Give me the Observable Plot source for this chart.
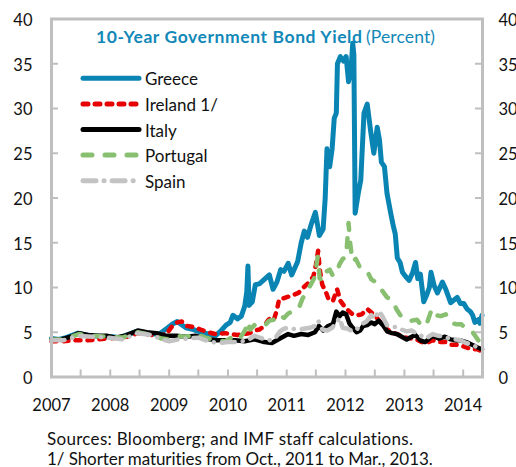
<!DOCTYPE html>
<html><head><meta charset="utf-8">
<script src="https://cdn.jsdelivr.net/npm/d3@7"></script>
<script src="https://cdn.jsdelivr.net/npm/@observablehq/plot@0.6"></script>
<style>
body{margin:0;background:#fff;}
#wrap{position:relative;width:516px;height:467px;overflow:hidden;font-family:Lato,"Open Sans",sans-serif;}
.note{position:absolute;left:47px;font-size:17px;line-height:20px;color:#111;white-space:nowrap;}
</style></head><body><div id="wrap"></div>
<script>
// ---------- data (10-year government bond yields, percent) ----------
const greece = [["2007-01-01",4.3],["2007-02-15",4.2],["2007-04-01",4.4],["2007-06-15",4.9],["2007-08-01",4.7],["2007-09-15",4.6],["2007-11-15",4.5],["2008-01-15",4.5],["2008-03-01",4.4],["2008-04-15",4.7],["2008-06-15",5.1],["2008-07-15",5.0],["2008-09-15",4.8],["2008-11-01",4.8],["2008-12-15",5.4],["2009-01-20",5.9],["2009-02-20",6.2],["2009-03-15",5.9],["2009-04-15",5.5],["2009-06-01",5.3],["2009-07-15",5.0],["2009-09-01",4.8],["2009-10-15",4.6],["2009-11-20",5.2],["2009-12-20",5.8],["2010-01-15",6.1],["2010-02-01",6.9],["2010-03-01",6.5],["2010-03-25",6.8],["2010-04-15",7.9],["2010-04-28",9.5],["2010-05-05",12.4],["2010-05-12",8.0],["2010-06-01",8.4],["2010-06-20",10.3],["2010-07-15",10.4],["2010-08-15",10.9],["2010-09-15",11.4],["2010-10-08",9.8],["2010-11-01",10.6],["2010-11-25",12.0],["2010-12-15",11.8],["2011-01-10",12.7],["2011-02-01",11.4],["2011-03-10",12.9],["2011-04-01",15.0],["2011-04-20",16.3],["2011-05-10",15.6],["2011-06-01",17.0],["2011-06-28",18.4],["2011-07-23",15.8],["2011-08-15",16.5],["2011-08-28",20.0],["2011-09-08",25.5],["2011-09-25",23.5],["2011-10-10",25.5],["2011-10-23",28.9],["2011-11-05",29.5],["2011-11-12",35.0],["2011-11-30",35.8],["2011-12-20",35.3],["2012-01-05",35.8],["2012-01-20",33.0],["2012-02-05",34.5],["2012-02-15",37.3],["2012-02-22",36.0],["2012-03-01",18.3],["2012-03-20",20.5],["2012-04-05",22.0],["2012-04-25",29.5],["2012-05-15",30.5],["2012-06-05",27.5],["2012-06-25",25.0],["2012-07-16",27.9],["2012-07-30",26.5],["2012-08-11",24.0],["2012-08-30",23.5],["2012-09-15",20.5],["2012-10-08",18.3],["2012-10-25",16.8],["2012-11-05",16.0],["2012-11-18",13.3],["2012-12-05",12.8],["2012-12-20",11.7],["2013-01-10",11.2],["2013-01-30",10.8],["2013-02-20",11.6],["2013-03-11",12.8],["2013-03-25",11.0],["2013-04-10",11.5],["2013-05-01",8.4],["2013-05-20",9.2],["2013-06-05",10.0],["2013-06-15",11.7],["2013-07-05",10.2],["2013-07-25",9.4],["2013-08-25",10.6],["2013-09-15",9.8],["2013-10-15",8.3],["2013-11-05",8.6],["2013-11-25",8.9],["2013-12-15",8.2],["2014-01-05",8.2],["2014-01-25",7.6],["2014-02-15",7.3],["2014-03-01",6.9],["2014-03-15",6.1],["2014-04-05",6.4],["2014-04-15",6.0],["2014-04-28",6.9]];

const ireland = [["2007-01-01",4.0],["2007-03-15",4.0],["2007-06-01",4.1],["2007-08-15",4.1],["2007-10-15",4.2],["2007-12-15",4.3],["2008-02-15",4.4],["2008-04-15",4.5],["2008-06-20",4.9],["2008-08-15",4.8],["2008-10-15",4.6],["2008-12-15",4.8],["2009-01-20",5.7],["2009-02-20",6.1],["2009-03-20",6.2],["2009-04-20",5.7],["2009-06-01",5.6],["2009-07-15",5.3],["2009-09-01",5.0],["2009-10-15",4.8],["2009-12-15",4.9],["2010-01-20",4.8],["2010-03-01",4.7],["2010-04-15",4.8],["2010-05-15",4.9],["2010-06-15",5.2],["2010-07-15",5.3],["2010-08-15",5.7],["2010-09-10",6.4],["2010-09-30",6.7],["2010-10-15",6.5],["2010-11-01",7.5],["2010-11-15",8.7],["2010-12-15",8.8],["2011-01-15",9.0],["2011-02-15",9.2],["2011-03-15",9.4],["2011-04-15",10.0],["2011-05-15",10.5],["2011-06-15",11.2],["2011-07-01",12.5],["2011-07-15",14.1],["2011-07-25",12.0],["2011-08-10",10.3],["2011-09-01",9.5],["2011-09-20",8.6],["2011-10-15",8.5],["2011-11-10",9.8],["2011-12-01",8.5],["2011-12-25",7.9],["2012-01-20",7.4],["2012-02-15",7.0],["2012-03-15",6.9],["2012-04-10",7.0],["2012-05-15",7.6],["2012-06-10",7.2],["2012-07-10",6.7],["2012-08-10",6.0],["2012-09-10",5.4],["2012-10-15",5.0],["2012-11-15",4.8],["2012-12-10",4.6],["2013-01-10",4.4],["2013-02-15",4.3],["2013-03-15",4.2],["2013-04-20",3.9],["2013-05-20",3.8],["2013-06-25",4.1],["2013-08-01",3.9],["2013-09-15",3.9],["2013-10-20",3.6],["2013-11-20",3.6],["2013-12-20",3.5],["2014-01-20",3.3],["2014-02-25",3.1],["2014-04-01",3.1],["2014-04-28",2.8]];

const italy = [["2007-01-01",4.2],["2007-03-01",4.2],["2007-05-01",4.5],["2007-06-20",4.9],["2007-08-15",4.7],["2007-10-15",4.6],["2007-12-15",4.6],["2008-02-01",4.4],["2008-04-01",4.6],["2008-06-20",5.2],["2008-08-15",5.0],["2008-10-15",4.9],["2008-12-15",4.6],["2009-02-15",4.6],["2009-04-15",4.5],["2009-06-15",4.6],["2009-08-15",4.3],["2009-10-15",4.1],["2009-12-15",4.1],["2010-02-15",4.1],["2010-04-15",4.0],["2010-06-15",4.2],["2010-08-15",3.9],["2010-10-01",3.8],["2010-11-20",4.3],["2011-01-10",4.8],["2011-02-15",4.6],["2011-04-01",4.8],["2011-05-15",4.7],["2011-06-25",5.0],["2011-07-20",5.7],["2011-08-15",5.2],["2011-09-15",5.7],["2011-10-15",5.9],["2011-11-05",7.3],["2011-11-25",6.8],["2011-12-15",7.2],["2012-01-05",7.0],["2012-01-25",6.0],["2012-02-15",5.5],["2012-03-10",5.0],["2012-04-01",5.2],["2012-04-20",5.7],["2012-05-15",5.8],["2012-06-10",6.1],["2012-07-01",5.9],["2012-07-25",6.3],["2012-08-20",5.8],["2012-09-15",5.1],["2012-10-15",4.9],["2012-11-15",4.8],["2012-12-15",4.5],["2013-01-15",4.2],["2013-02-15",4.5],["2013-03-10",4.7],["2013-04-10",4.1],["2013-05-10",3.9],["2013-06-25",4.6],["2013-08-01",4.3],["2013-09-10",4.5],["2013-10-15",4.2],["2013-11-15",4.1],["2013-12-15",4.1],["2014-01-20",3.9],["2014-02-25",3.6],["2014-04-01",3.3],["2014-04-28",3.1]];

const portugal = [["2007-01-01",4.2],["2007-03-15",4.2],["2007-06-20",4.8],["2007-09-15",4.6],["2007-12-15",4.5],["2008-03-15",4.4],["2008-06-20",5.0],["2008-09-15",4.7],["2008-11-15",4.3],["2009-01-01",4.2],["2009-02-15",4.6],["2009-04-15",4.5],["2009-06-15",4.8],["2009-08-15",4.4],["2009-10-15",4.1],["2009-12-15",4.0],["2010-02-10",4.6],["2010-03-15",4.3],["2010-04-20",5.3],["2010-05-05",6.2],["2010-05-20",5.3],["2010-06-15",5.8],["2010-07-15",5.6],["2010-08-15",5.7],["2010-09-15",6.3],["2010-10-15",6.4],["2010-11-10",7.0],["2010-12-15",6.6],["2011-01-10",7.1],["2011-02-15",7.4],["2011-03-15",7.6],["2011-04-10",8.8],["2011-05-05",9.5],["2011-06-05",10.5],["2011-06-25",11.2],["2011-07-12",13.4],["2011-07-25",11.0],["2011-08-15",10.8],["2011-09-05",11.8],["2011-09-25",12.0],["2011-10-15",11.3],["2011-11-10",11.8],["2011-11-25",12.6],["2011-12-15",13.2],["2012-01-05",13.4],["2012-01-20",17.2],["2012-02-01",14.6],["2012-02-15",12.9],["2012-03-05",13.2],["2012-04-01",12.2],["2012-05-15",11.8],["2012-06-10",10.9],["2012-07-15",10.5],["2012-08-10",9.8],["2012-09-15",8.9],["2012-10-15",8.6],["2012-11-15",7.5],["2012-12-15",6.7],["2013-01-15",6.4],["2013-02-15",6.3],["2013-03-20",6.4],["2013-04-10",5.9],["2013-05-15",5.7],["2013-06-20",7.6],["2013-07-15",6.9],["2013-08-15",6.8],["2013-09-15",7.0],["2013-10-15",6.1],["2013-11-15",5.9],["2013-12-20",5.9],["2014-01-25",5.3],["2014-03-01",5.0],["2014-04-01",4.2],["2014-04-28",3.6]];

const spain = [["2007-01-01",4.1],["2007-03-15",4.1],["2007-06-20",4.6],["2007-09-15",4.5],["2007-12-15",4.4],["2008-03-15",4.2],["2008-06-20",4.9],["2008-09-15",4.7],["2008-11-15",4.2],["2009-01-01",4.0],["2009-03-01",4.2],["2009-05-01",4.3],["2009-07-01",4.4],["2009-09-01",4.0],["2009-11-01",3.8],["2010-01-01",3.9],["2010-03-01",3.9],["2010-05-01",4.1],["2010-06-15",4.6],["2010-08-01",4.3],["2010-09-15",4.1],["2010-10-20",4.3],["2010-11-20",5.1],["2010-12-15",5.4],["2011-01-15",5.5],["2011-03-01",5.3],["2011-04-15",5.4],["2011-05-25",5.5],["2011-06-25",5.7],["2011-07-15",6.3],["2011-08-10",5.3],["2011-09-10",5.2],["2011-10-10",5.5],["2011-11-10",6.2],["2011-11-25",6.6],["2011-12-15",5.5],["2012-01-15",5.4],["2012-02-15",5.1],["2012-03-10",5.3],["2012-04-10",5.9],["2012-05-10",6.2],["2012-06-10",6.9],["2012-07-01",6.5],["2012-07-25",7.4],["2012-08-20",6.7],["2012-09-15",5.8],["2012-10-15",5.6],["2012-11-15",5.6],["2012-12-15",5.3],["2013-01-15",5.1],["2013-02-15",5.2],["2013-03-15",4.9],["2013-04-15",4.6],["2013-05-15",4.3],["2013-06-25",4.8],["2013-08-01",4.6],["2013-09-10",4.5],["2013-10-15",4.2],["2013-11-15",4.2],["2013-12-15",4.1],["2014-01-20",3.8],["2014-02-25",3.6],["2014-04-01",3.3],["2014-04-28",3.0]];

const seriesNames = ["Greece","Ireland 1/","Italy","Portugal","Spain"];
const yTickValues = [0,5,10,15,20,25,30,35,40];
const xTickYears = ["2007","2008","2009","2010","2011","2012","2013","2014"];
const titleMain = "10-Year Government Bond Yield";
const titleUnit = "(Percent)";
const notes = ["Sources: Bloomberg; and IMF staff calculations.","1/ Shorter maturities from Oct., 2011 to Mar., 2013."];

// ---------- styles ----------
const styles = [
  {stroke:"#0a85b3", strokeWidth:5, dash:null},
  {stroke:"#e60000", strokeWidth:4.5, dash:"5,7"},
  {stroke:"#000000", strokeWidth:4.5, dash:null},
  {stroke:"#88bf70", strokeWidth:4.5, dash:"9,13"},
  {stroke:"#c3c3c3", strokeWidth:4.5, dash:"13,8,0.1,8"}
];
const allSeries = [greece, ireland, italy, portugal, spain];
const FONT = "Lato, 'Open Sans', sans-serif";
const W = 516, H = 420, mL = 51, mR = 34, mT = 18.5, mB = 43.5;
const plotW = W - mL - mR, plotH = H - mT - mB;
const grey = "#bfbfbf";
const parse = s => new Date(s + "T00:00:00Z");
const xDomain = [parse("2007-01-01"), parse("2014-05-01")];
const halfYears = d3.utcMonth.every(6).range(parse("2007-02-01"), parse("2014-02-01"));

const lineMarks = allSeries.map((data, i) => Plot.line(data, {
  x: d => parse(d[0]), y: d => d[1],
  stroke: styles[i].stroke, strokeWidth: styles[i].strokeWidth,
  strokeDasharray: styles[i].dash, strokeLinecap: "round", strokeLinejoin: "round"
}));

const chart = Plot.plot({
  width: W, height: H,
  marginLeft: mL, marginRight: mR, marginTop: mT, marginBottom: mB,
  style: {fontFamily: FONT, fontSize: "16px", color: "#111", background: "white", overflow: "visible"},
  x: {type: "utc", domain: xDomain},
  y: {domain: [0, 40]},
  marks: [
    Plot.tickY(yTickValues.slice(1, -1), {y: d => d, stroke: grey, strokeWidth: 2, insetRight: plotW - 7}),
    Plot.tickY(yTickValues.slice(1, -1), {y: d => d, stroke: grey, strokeWidth: 2, insetLeft: plotW - 7}),
    Plot.tickX(halfYears, {x: d => d, stroke: grey, strokeWidth: 2, insetTop: plotH - 7}),
    ...lineMarks,
    Plot.frame({stroke: grey, strokeWidth: 3}),
    Plot.axisY({anchor: "left", ticks: yTickValues, tickSize: 0, tickPadding: 19, label: null, fontSize: 16.5, dy: 1.5}),
    Plot.axisY({anchor: "right", ticks: yTickValues, tickSize: 0, tickPadding: 16, label: null, fontSize: 16.5, dy: 1.5}),
    Plot.axisX({ticks: xTickYears.map(y => parse(y + "-01-01")), tickFormat: d3.utcFormat("%Y"), tickSize: 0, tickPadding: 22, label: null, fontSize: 16.5})
  ]
});

const svg = d3.select(chart);
// title
svg.append("text").attr("x", 96).attr("y", 43).attr("text-anchor", "start").attr("font-family", FONT).attr("font-size", 17.5)
  .attr("font-weight", "bold").attr("fill", "#1288b8").attr("textLength", 266).text(titleMain);
svg.append("text").attr("x", 366).attr("y", 43).attr("text-anchor", "start").attr("font-family", FONT).attr("font-size", 17.5)
  .attr("fill", "#1288b8").attr("textLength", 69).text(titleUnit);
// legend
const lg = svg.append("g");
seriesNames.forEach((name, i) => {
  const y = 78.3 + i * 25.6;
  lg.append("line").attr("x1", 83).attr("x2", 139).attr("y1", y).attr("y2", y)
    .attr("stroke", styles[i].stroke).attr("stroke-width", 5).attr("stroke-linecap", "round")
    .attr("stroke-dasharray", styles[i].dash);
  lg.append("text").attr("x", 145).attr("y", y + 7).attr("text-anchor", "start").attr("font-family", FONT).attr("font-size", 17)
    .attr("fill", "#111").text(name);
});

const wrap = document.getElementById("wrap");
wrap.appendChild(chart);
const targets = [366, 386], tops = [429, 449];
notes.forEach((t, i) => {
  const d = document.createElement("div");
  d.className = "note"; d.style.top = tops[i] + "px"; d.textContent = t;
  wrap.appendChild(d);
  const w = d.getBoundingClientRect().width;
  d.style.letterSpacing = ((targets[i] - w) / t.length) + "px";
});
</script></body></html>
